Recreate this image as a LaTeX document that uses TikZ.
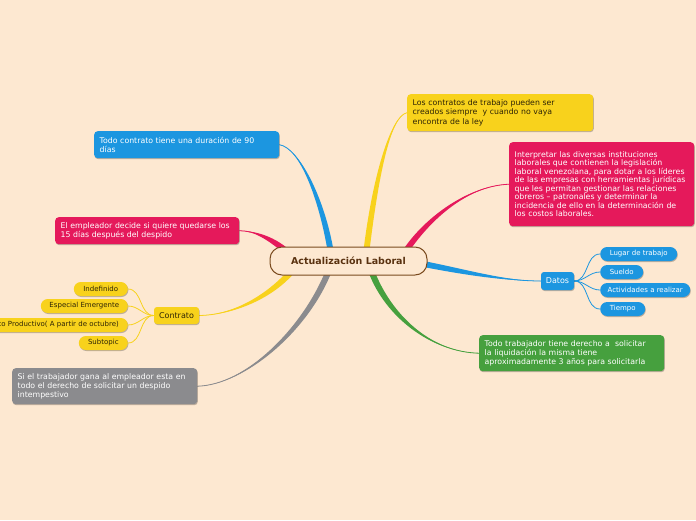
\documentclass[tikz,border=0pt]{standalone}
\usepackage{fontspec}
\setmainfont{DejaVu Sans}
\usetikzlibrary{calc,shadows}
\definecolor{bgc}{HTML}{FDE8D1}
\definecolor{yel}{HTML}{F8D21C}
\definecolor{pnk}{HTML}{E5195B}
\definecolor{blu}{HTML}{1C96E0}
\definecolor{grn}{HTML}{46A03E}
\definecolor{gry}{HTML}{8B8B8E}
\definecolor{rootb}{HTML}{7A4A1E}
\definecolor{roott}{HTML}{5A3210}
\definecolor{ink}{HTML}{2E2405}
\pgfdeclarelayer{back}
\pgfdeclarelayer{conn}
\pgfsetlayers{back,conn,main}
\newcommand\branch[6]{%
  \fill[#1] ($(#2)+(#6)$) .. controls ($(#3)+(#6)$) and (#4) .. (#5)
     .. controls (#4) and ($(#3)-(#6)$) .. ($(#2)-(#6)$) -- cycle;
  \draw[#1, line width=0.8pt] (#2) .. controls (#3) and (#4) .. (#5);}
\newcommand\li[1]{\mbox{#1}}
\tikzset{
  shad/.style={drop shadow={shadow xshift=0.6pt, shadow yshift=-1pt, opacity=0.25, fill=black}},
  topic/.style={rounded corners=3.5pt, anchor=north west, inner xsep=5.5pt, inner ysep=0pt,
    align=left, font=\fontsize{7.8}{9.2}\selectfont, text=white, shad},
  pill/.style={rounded corners=7pt, minimum height=14pt, inner xsep=0pt, inner ysep=0pt,
    font=\fontsize{7}{8}\selectfont, shad},
  sub/.style={line width=0.8pt},
}
\begin{document}
\begin{tikzpicture}[x=1pt,y=-1pt]
\useasboundingbox (0,0) rectangle (696,520);
\begin{pgfonlayer}{back}
\fill[bgc] (0,0) rectangle (696,520);
\end{pgfonlayer}
\clip (0,0) rectangle (696,520);

% root
\node[draw=rootb, line width=1pt, fill=bgc, rounded corners=12pt, minimum width=157pt,
  minimum height=28pt, inner sep=0pt, font=\fontsize{9.5}{11}\bfseries, text=roott]
  (root) at (348.5,261) {Actualización Laboral};

% main topics
\node[topic, fill=yel, text=ink, text width=175pt, minimum height=37pt, font=\fontsize{7.8}{9.4}\selectfont]
  (yr) at (407,94) {\li{Los contratos de trabajo pueden ser}\\\li{creados siempre~ y cuando no vaya}\\\li{encontra de la ley}};
\node[topic, fill=pnk, text width=174pt, minimum height=84pt, font=\fontsize{7.8}{8.5}\selectfont]
  (pr) at (509,142) {\li{Interpretar las diversas instituciones}\\\li{laborales que contienen la legislación}\\\li{laboral venezolana, para dotar a los líderes}\\\li{de las empresas con herramientas jurídicas}\\\li{que les permitan gestionar las relaciones}\\\li{obreros – patronales y determinar la}\\\li{incidencia de ello en la determinación de}\\\li{los costos laborales.}};
\node[topic, fill=blu, text width=174pt, minimum height=27pt]
  (bl) at (94,131) {\li{Todo contrato tiene una duración de 90}\\\li{días}};
\node[topic, fill=pnk, text width=173pt, minimum height=27pt]
  (pl) at (55,217) {\li{El empleador decide si quiere quedarse los}\\\li{15 días después del despido}};
\node[topic, fill=gry, text width=174pt, minimum height=36pt]
  (gy) at (12,368) {\li{Si el trabajador gana al empleador esta en}\\\li{todo el derecho de solicitar un despido}\\\li{intempestivo}};
\node[topic, fill=grn, text width=174pt, minimum height=36pt]
  (gr) at (479,335) {\li{Todo trabajador tiene derecho a~ solicitar}\\\li{la liquidación la misma tiene}\\\li{aproximadamente 3 años para solicitarla}};

% Datos
\node[rounded corners=3pt, fill=blu, text=white, minimum width=33pt, minimum height=18pt,
  inner sep=0pt, font=\fontsize{8}{9}\selectfont, shad] (dt) at (557.5,281) {Datos};
\node[pill, fill=blu, text=white, minimum width=77pt, anchor=west] (d1) at (600,254) {Lugar de trabajo};
\node[pill, fill=blu, text=white, minimum width=43pt, anchor=west] (d2) at (600,272) {Sueldo};
\node[pill, fill=blu, text=white, minimum width=90pt, anchor=west] (d3) at (600,290) {Actividades a realizar};
\node[pill, fill=blu, text=white, minimum width=45pt, anchor=west] (d4) at (600,309) {Tiempo};

% Contrato
\node[rounded corners=3pt, fill=yel, text=ink, minimum width=45pt, minimum height=17pt,
  inner sep=0pt, font=\fontsize{8}{9}\selectfont, shad] (ct) at (176.5,315.5) {Contrato};
\node[pill, fill=yel, text=ink, minimum width=54pt, anchor=east] (c1) at (128,289) {Indefinido};
\node[pill, fill=yel, text=ink, minimum width=87pt, anchor=east] (c2) at (128,306) {Especial Emergente};
\node[pill, fill=yel, text=ink, inner xsep=9pt, anchor=east] (c3) at (128,325) {Proyecto Productivo( A partir de octubre)};
\node[pill, fill=yel, text=ink, minimum width=49pt, anchor=east] (c4) at (128,343) {Subtopic};

% connector end points
\coordinate (s1) at ($(root.north)+(-18,4)$);
\coordinate (s2) at ($(root.north)+(18,4)$);
\coordinate (s3) at ($(root.north east)+(-22,5)$);
\coordinate (s4) at ($(root.east)+(-4,3)$);
\coordinate (s5) at ($(root.south)+(23,-4)$);
\coordinate (s6) at ($(root.south)+(-20,-4)$);
\coordinate (s7) at ($(root.south west)+(22,-4)$);
\coordinate (s8) at ($(root.north west)+(16,4)$);

\begin{pgfonlayer}{conn}
\branch{blu}{s1}{322,200}{300,148}{bl.east}{3,0}
\branch{yel}{s2}{375,180}{390,116}{yr.west}{3,0}
\branch{pnk}{s3}{425,222}{465,186}{pr.west}{2.4,1.7}
\branch{blu}{s4}{465,272}{505,281}{dt.west}{0,3}
\branch{grn}{s5}{388,315}{430,352}{gr.west}{2.7,-1.4}
\branch{gry}{s6}{305,330}{245,385}{gy.east}{2.6,1.5}
\branch{yel}{s7}{268,298}{232,315}{ct.east}{2.2,2.1}
\branch{pnk}{s8}{270,238}{255,231}{pl.east}{1.8,-2.4}
\foreach \n in {d1,d2,d3,d4}
  \draw[sub, blu] (dt.east) to[out=0,in=180] (\n.west);
\foreach \n in {c1,c2,c3,c4}
  \draw[sub, yel] (ct.west) to[out=180,in=0] (\n.east);
\end{pgfonlayer}
\end{tikzpicture}
\end{document}
